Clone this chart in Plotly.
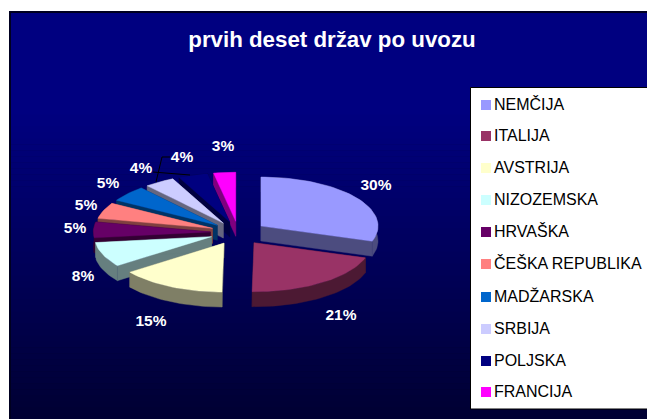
import math
import plotly.graph_objects as go

COUNTRIES = ["NEMČIJA", "ITALIJA", "AVSTRIJA", "NIZOZEMSKA", "HRVAŠKA",
             "ČEŠKA REPUBLIKA", "MADŽARSKA", "SRBIJA", "POLJSKA", "FRANCIJA"]
VALUES = [30, 21, 15, 8, 5, 5, 5, 4, 4, 3]
COLORS = ["#9999FF", "#993366", "#FFFFCC", "#CCFFFF", "#660066",
          "#FF8080", "#0066CC", "#CCCCFF", "#000080", "#FF00FF"]
TITLE = "prvih deset držav po uvozu"

# Page-pixel layout of the drawing (axes below map 1:1 to the window)
W, H = 647, 419
CX, CY, RX, RY, EXPLODE, DEPTH = 238.3, 233.0, 117.0, 49.0, 0.24, 15.0
LABEL_X = [376, 341, 151, 83, 75, 86, 108, 141, 182, 223]
LABEL_Y = [186, 316, 322, 277, 229, 206, 184, 169, 158, 147]
LEGEND_X = 486
LEGEND_TEXT_X = 494
LEGEND_Y = [105, 136, 168, 200, 232, 264, 297, 329, 361, 392]
TEXT_DY = 1


def shade(hex_color, k=0.5):
    r, g, b = (int(hex_color[i:i + 2], 16) for i in (1, 3, 5))
    return f"rgb({int(r * k)},{int(g * k)},{int(b * k)})"


def band_color(y):
    t = max(0.0, (y - 110) / (H - 110))
    return f"rgb(0,0,{int(round(128 - 78 * t))})"


def view_angle(deg):
    """Slight 3-D view distortion of a pie angle on the left-hand side."""
    if deg <= 108:
        return deg
    return deg - 4.0 * math.sin((deg - 108) / 252 * math.pi) ** 2


shapes = [dict(type="rect", xref="x", yref="y", x0=9, x1=W, y0=11, y1=H,
               fillcolor="#000020", line_width=0, layer="below")]
N_BANDS = 68
for i in range(N_BANDS):
    y0 = 13 + (H - 13) * i / N_BANDS
    y1 = 13 + (H - 13) * (i + 1) / N_BANDS
    shapes.append(dict(type="rect", xref="x", yref="y", x0=11, x1=W, y0=y0, y1=y1 + 0.5,
                       fillcolor=band_color((y0 + y1) / 2), line_width=0, layer="below"))
shapes.append(dict(type="rect", xref="x", yref="y", x0=470.5, x1=W + 5, y0=87.5, y1=409,
                   fillcolor="white", line=dict(color="black", width=1), layer="below"))

fig = go.Figure()


def poly(xs, ys, color):
    fig.add_trace(go.Scatter(x=xs, y=ys, mode="lines", fill="toself", fillcolor=color,
                             line=dict(color=color, width=0.4), hoverinfo="skip",
                             showlegend=False))


total = sum(VALUES)
slices = []
start = 0.0
for value, color in zip(VALUES, COLORS):
    span = 360.0 * value / total
    slices.append((start, start + span, color))
    start += span

# Paint back slices first, so the front ones overlap them
for a0, a1, color in sorted(slices, key=lambda s: -math.cos(math.radians((s[0] + s[1]) / 2))):
    mid = math.radians((a0 + a1) / 2)
    ax = CX + EXPLODE * RX * math.sin(mid)
    ay = CY - EXPLODE * RY * math.cos(mid)
    steps = max(2, int((a1 - a0) / 2))
    ts = [math.radians(view_angle(a0 + (a1 - a0) * k / steps)) for k in range(steps + 1)]
    ex = [ax + RX * math.sin(t) for t in ts]
    ey = [ay - RY * math.cos(t) for t in ts]
    dark = shade(color)
    # radial walls
    poly([ax, ex[0], ex[0], ax, ax], [ay, ey[0], ey[0] + DEPTH, ay + DEPTH, ay], dark)
    poly([ax, ex[-1], ex[-1], ax, ax], [ay, ey[-1], ey[-1] + DEPTH, ay + DEPTH, ay], dark)
    # outer wall
    poly(ex + ex[::-1] + ex[:1], ey + [y + DEPTH for y in ey[::-1]] + ey[:1], dark)
    # top face
    poly([ax] + ex + [ax], [ay] + ey + [ay], color)

# leader lines of the two 4 % labels
fig.add_trace(go.Scatter(x=[156, 162, 170], y=[182, 157, 157], mode="lines",
                         line=dict(color="black", width=1), hoverinfo="skip", showlegend=False))
fig.add_trace(go.Scatter(x=[153, 190], y=[172, 175], mode="lines",
                         line=dict(color="black", width=1), hoverinfo="skip", showlegend=False))

# percentage labels
fig.add_trace(go.Scatter(x=LABEL_X, y=LABEL_Y, mode="text",
                         text=[f"{v}%" for v in VALUES], textposition="middle center",
                         textfont=dict(family="Liberation Sans", size=15.5, color="white", weight="bold"),
                         hoverinfo="skip", showlegend=False))

# legend
fig.add_trace(go.Scatter(x=[LEGEND_X] * len(COUNTRIES), y=LEGEND_Y, mode="markers",
                         marker=dict(symbol="square", size=10, color=COLORS, line_width=0),
                         hoverinfo="skip", showlegend=False))
fig.add_trace(go.Scatter(x=[LEGEND_TEXT_X] * len(COUNTRIES), y=[y + TEXT_DY for y in LEGEND_Y], mode="text",
                         text=COUNTRIES, textposition="middle right",
                         textfont=dict(family="Liberation Sans", size=16, color="black"),
                         hoverinfo="skip", showlegend=False))

fig.update_layout(
    width=W, height=H, autosize=False,
    margin=dict(l=0, r=0, t=0, b=0),
    paper_bgcolor="white", plot_bgcolor="rgba(0,0,0,0)",
    showlegend=False, shapes=shapes,
    title=dict(text=TITLE, x=332 / W, y=1 - 39 / H, xref="paper", yref="paper",
               xanchor="center", yanchor="middle",
               font=dict(family="Liberation Sans", size=22.3, color="white", weight="bold")),
    xaxis=dict(range=[0, W], visible=False, fixedrange=True),
    yaxis=dict(range=[H, 0], visible=False, fixedrange=True),
)
fig.write_html("out.html", config={"displayModeBar": False},
               post_script="document.body.style.margin='0';document.documentElement.style.overflow='hidden';")
